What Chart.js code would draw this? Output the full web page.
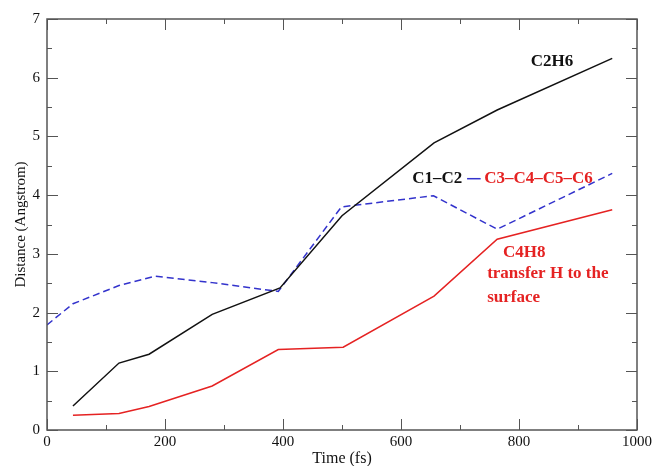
<!DOCTYPE html>
<html>
<head>
<meta charset="utf-8">
<script src="https://cdn.jsdelivr.net/npm/chart.js@4/dist/chart.umd.min.js"></script>
<style>
  html, body { margin: 0; padding: 0; background: #fff; }
  #wrap { width: 655px; height: 466px; }
</style>
</head>
<body>
<div id="wrap"><canvas id="grafico"></canvas></div>
<script>
// distancias vs tiempo (fs)
const tiempoC2H6 = [44, 122, 173, 280, 395, 500, 656, 763, 958];
const distC2H6   = [0.41, 1.14, 1.29, 1.97, 2.42, 3.65, 4.89, 5.45, 6.33];

const tiempoCadena = [0, 44, 122, 183, 280, 392, 499, 655, 763, 958];
const distCadena   = [1.79, 2.15, 2.46, 2.62, 2.51, 2.36, 3.80, 3.99, 3.42, 4.37];

const tiempoC4H8 = [44, 122, 173, 280, 392, 502, 656, 763, 958];
const distC4H8   = [0.25, 0.28, 0.40, 0.75, 1.37, 1.41, 2.28, 3.25, 3.75];

const ticksX = [0, 200, 400, 600, 800, 1000];
const ticksY = [0, 1, 2, 3, 4, 5, 6, 7];

// etiquetas dentro del grafico [texto, x, y, color]
const etiquetas = [
  ['C2H6', 820, 6.27, '#111'],
  ['C1–C2', 619, 4.28, '#111'],
  ['C3–C4–C5–C6', 741, 4.28, '#e52222'],
  ['C4H8', 773, 3.02, '#e52222'],
  ['transfer H to the', 746, 2.66, '#e52222'],
  ['surface', 746, 2.25, '#e52222']
];

const fuente = 'Liberation Serif, Times New Roman, serif';

function puntos(xs, ys) {
  return xs.map((x, i) => ({ x: x, y: ys[i] }));
}

// marco con marcas hacia adentro, estilo xmgrace
const marco = {
  id: 'marco',
  beforeDatasetsDraw(chart) {
    const { ctx, scales: { x, y } } = chart;
    ctx.save();
    ctx.font = 'bold 17px ' + fuente;
    ctx.textBaseline = 'middle';
    ctx.textAlign = 'left';
    etiquetas.forEach(([txt, vx, vy, col]) => {
      ctx.fillStyle = col;
      ctx.fillText(txt, x.getPixelForValue(vx), y.getPixelForValue(vy));
    });
    // trazo azul entre C1-C2 y C3...
    ctx.strokeStyle = '#3333cc';
    ctx.lineWidth = 1.5;
    ctx.beginPath();
    ctx.moveTo(x.getPixelForValue(712), y.getPixelForValue(4.28));
    ctx.lineTo(x.getPixelForValue(735), y.getPixelForValue(4.28));
    ctx.stroke();
    ctx.restore();
  },
  afterDatasetsDraw(chart) {
    const { ctx, chartArea: a, scales: { x, y } } = chart;
    ctx.save();
    ctx.strokeStyle = '#555';
    ctx.lineWidth = 1.5;
    ctx.strokeRect(a.left, a.top, a.right - a.left, a.bottom - a.top);
    ctx.lineWidth = 1;
    ctx.beginPath();
    for (let v = 0; v <= 1000; v += 100) {
      const px = Math.round(x.getPixelForValue(v)) + 0.5;
      const len = v % 200 === 0 ? 11 : 5;
      ctx.moveTo(px, a.bottom); ctx.lineTo(px, a.bottom - len);
      ctx.moveTo(px, a.top); ctx.lineTo(px, a.top + len);
    }
    for (let v = 0; v <= 7; v += 0.5) {
      const py = Math.round(y.getPixelForValue(v)) + 0.5;
      const len = v % 1 === 0 ? 11 : 5;
      ctx.moveTo(a.left, py); ctx.lineTo(a.left + len, py);
      ctx.moveTo(a.right, py); ctx.lineTo(a.right - len, py);
    }
    ctx.stroke();
    ctx.restore();
  }
};

new Chart(document.getElementById('grafico'), {
  type: 'line',
  data: {
    datasets: [
      {
        label: 'C2H6',
        data: puntos(tiempoC2H6, distC2H6),
        borderColor: '#111',
        borderWidth: 1.5
      },
      {
        label: 'C1-C2-C3-C4-C5-C6',
        data: puntos(tiempoCadena, distCadena),
        borderColor: '#3333cc',
        borderWidth: 1.5,
        borderDash: [7, 4]
      },
      {
        label: 'C4H8',
        data: puntos(tiempoC4H8, distC4H8),
        borderColor: '#e52222',
        borderWidth: 1.5
      }
    ]
  },
  options: {
    responsive: true,
    maintainAspectRatio: false,
    animation: false,
    elements: { point: { radius: 0 }, line: { tension: 0 } },
    layout: { padding: { top: 19, right: 18, left: 0, bottom: 0 } },
    plugins: { legend: { display: false }, tooltip: { enabled: false } },
    scales: {
      x: {
        type: 'linear',
        min: 0,
        max: 1000,
        afterFit: s => { s.height = 36; },
        afterBuildTicks: s => { s.ticks = ticksX.map(v => ({ value: v })); },
        grid: { display: false, drawTicks: false },
        border: { display: false },
        ticks: { color: '#111', padding: 3, maxRotation: 0, callback: v => String(v), font: { family: fuente, size: 15 } },
        title: { display: true, text: 'Time (fs)', color: '#111', padding: 0, font: { family: fuente, size: 16, lineHeight: 0.9 } }
      },
      y: {
        min: 0,
        max: 7,
        afterFit: s => { s.width = 47; },
        afterBuildTicks: s => { s.ticks = ticksY.map(v => ({ value: v })); },
        grid: { display: false, drawTicks: false },
        border: { display: false },
        ticks: { color: '#111', padding: 7, font: { family: fuente, size: 15 } },
        title: { display: true, text: 'Distance (Angstrom)', color: '#111', padding: { top: 12, bottom: 0 }, font: { family: fuente, size: 15 } }
      }
    }
  },
  plugins: [marco]
});
</script>
</body>
</html>
